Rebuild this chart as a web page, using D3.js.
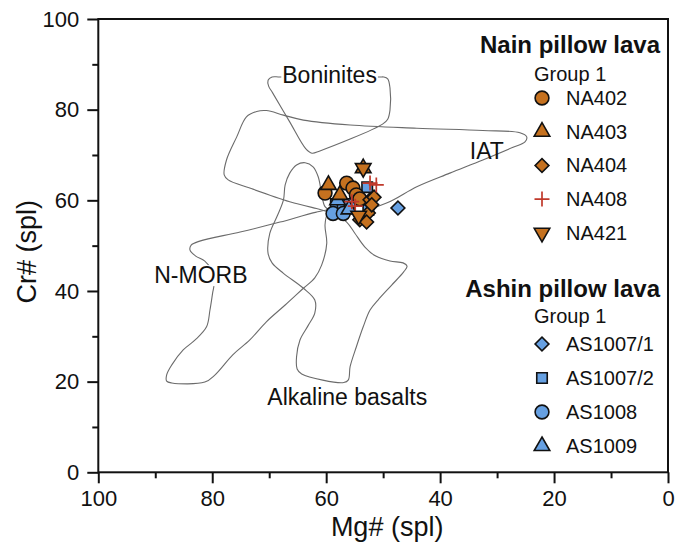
<!DOCTYPE html>
<html>
<head>
<meta charset="utf-8">
<script src="https://cdn.jsdelivr.net/npm/d3@7"></script>
<style>
  body { margin: 0; background: #fff; }
  svg { display: block; }
  text { font-family: "Liberation Sans", Arial, Helvetica, sans-serif; fill: #111; }
</style>
</head>
<body>
<svg id="chart" width="684" height="551"></svg>
<script>
// ---- axis ticks ----
const majorTicks = [0, 20, 40, 60, 80, 100];
const minorTicks = [10, 30, 50, 70, 90];

// ---- tectonic discrimination fields, [Mg#, Cr#] ----
const boniniteField = [[68.1,87.2],[69.5,87.2],[70.2,86.5],[70.1,85.2],[69.4,83.7],[66.4,77.3],[63.6,71.4],[62.5,70.4],[61.1,70.9],[50.1,76.8],[49.2,77.9],[48.8,79.9],[48.8,84.8],[49.2,86.8],[49.9,87.2],[50.6,87.2]];
const iatField = [[72.2,79.6],[70.5,79.8],[67.5,78.8],[64.0,77.7],[55.8,76.6],[44.1,75.9],[32.5,75.4],[26.0,74.9],[24.8,74.0],[25.1,72.9],[27.2,71.7],[32.5,68.9],[38.3,66.0],[44.1,63.0],[49.4,59.4],[56.7,56.8],[61.7,58.2],[66.4,59.7],[73.4,62.7],[77.2,64.5],[77.9,65.6],[77.5,68.9],[75.7,74.0],[74.0,78.4]];
const alkalineField = [[63.7,68.3],[62.3,67.4],[61.4,65.2],[60.8,61.5],[60.2,58.6],[58.5,57.0],[56.4,55.2],[55.0,52.8],[53.2,49.7],[51.3,47.7],[48.8,46.6],[46.5,46.2],[45.8,45.5],[46.4,44.2],[48.5,41.3],[50.9,38.0],[52.3,35.8],[53.5,32.1],[54.7,27.7],[55.8,23.3],[56.1,20.4],[56.9,19.8],[64.3,21.7],[65.1,22.8],[65.2,25.5],[64.6,29.2],[63.2,32.3],[62.0,35.1],[62.0,38.0],[64.0,40.6],[67.5,43.9],[69.5,46.2],[70.2,48.3],[69.9,52.7],[68.5,56.8],[67.5,60.1],[67.2,63.4],[66.4,66.0],[65.2,67.8]];
const morbField = [[58.5,58.1],[61.7,57.4],[68.1,55.2],[75.1,53.0],[82.2,51.0],[83.7,50.1],[83.9,49.0],[82.9,47.7],[81.3,46.6],[80.1,44.6],[79.7,41.3],[79.9,39.8],[80.4,35.8],[81.0,32.1],[83.0,29.2],[85.1,27.0],[87.1,23.7],[88.0,21.5],[88.0,20.1],[87.1,19.7],[81.3,19.9],[79.5,21.5],[76.4,25.9],[73.4,29.2],[70.5,33.2],[67.2,36.9],[64.0,40.6],[62.0,42.9],[60.8,45.7],[59.9,50.5],[60.2,54.6],[59.7,57.2]];

// field labels: [text, Mg#, Cr#, masks the outline underneath]
const fieldLabels = [
  ["Boninites", 59.4, 87.6, true],
  ["IAT", 31.8, 70.9, false],
  ["N-MORB", 82.0, 43.5, true],
  ["Alkaline basalts", 56.3, 16.6, false]
];

// ---- spinel analyses, [Mg#, Cr#] ----
const na402 = [[60.2,61.6],[56.4,63.8],[55.3,62.7],[54.7,61.2],[54.1,60.3]];
const na403 = [[53.5,67.1],[59.6,63.4],[57.6,61.2]];
const na404 = [[52.3,60.1],[51.6,60.7],[52.6,57.2],[54.1,55.7],[52.9,55.2],[52.0,59.0]];
const na408 = [[52.3,63.8],[51.2,63.4],[55.5,59.7],[54.9,58.7]];
const na421 = [[53.5,67.1],[54.3,56.6]];
const as1007_1 = [[47.4,58.3]];
const as1007_2 = [[58.3,59.2],[57.1,59.2],[55.9,59.2],[52.8,62.9],[52.6,57.9]];
const as1008 = [[58.8,57.1],[57.0,57.1]];
const as1009 = [[58.0,60.0],[56.0,58.0]];

const orange = "#c5711f";
const blue = "#66a0e2";
const red = "#c0392b";

const ashinSeries = [
  { name: "AS1007/1", shape: "diamond", color: blue, data: as1007_1 },
  { name: "AS1007/2", shape: "square", color: blue, data: as1007_2 },
  { name: "AS1008", shape: "circle", color: blue, data: as1008 },
  { name: "AS1009", shape: "triangle", color: blue, data: as1009 }
];
const nainSeries = [
  { name: "NA402", shape: "circle", color: orange, data: na402 },
  { name: "NA403", shape: "triangle", color: orange, data: na403 },
  { name: "NA404", shape: "diamond", color: orange, data: na404 },
  { name: "NA408", shape: "cross", color: red, data: na408 },
  { name: "NA421", shape: "triangleDown", color: orange, data: na421 }
];

// ---- layout ----
const svg = d3.select("#chart");
const plot = { left: 98.3, right: 668, top: 19, bottom: 472.3 };

const x = d3.scaleLinear().domain([100, 0]).range([plot.left, plot.right]);
const y = d3.scaleLinear().domain([0, 100]).range([plot.bottom, plot.top]);

// field outlines
const outline = d3.line()
  .x(d => x(d[0])).y(d => y(d[1]))
  .curve(d3.curveCatmullRomClosed.alpha(0.5));

const fields = svg.append("g").attr("fill", "none").attr("stroke", "#6b6b6b").attr("stroke-width", 1.1);
[boniniteField, iatField, alkalineField, morbField].forEach(f => {
  fields.append("path").attr("d", outline(f));
});

// field labels (some sit on the outline and mask it)
const labelG = svg.append("g");
fieldLabels.forEach(([t, mx, cr, mask]) => {
  const txt = labelG.append("text")
    .attr("x", x(mx)).attr("y", y(cr))
    .attr("text-anchor", "middle").attr("dominant-baseline", "central")
    .attr("font-size", 23).text(t);
  if (mask) {
    const b = txt.node().getBBox();
    labelG.insert("rect", "text")
      .attr("x", b.x - 1).attr("y", b.y + 3).attr("width", b.width + 2).attr("height", b.height - 5)
      .attr("fill", "#fff");
  }
});

// axes
const xAxis = g => g.attr("transform", `translate(0,${plot.bottom})`);
svg.append("g").call(xAxis)
  .call(d3.axisBottom(x).tickValues(minorTicks).tickSize(6).tickFormat(""))
  .call(g => g.select(".domain").remove());
svg.append("g").call(xAxis)
  .call(d3.axisBottom(x).tickValues(majorTicks).tickSize(11).tickPadding(7).tickFormat(d3.format("d")))
  .call(g => g.select(".domain").remove())
  .call(g => g.selectAll("text").attr("font-size", 22).attr("fill", "#111"));

const yAxis = g => g.attr("transform", `translate(${plot.left},0)`);
svg.append("g").call(yAxis)
  .call(d3.axisLeft(y).tickValues(minorTicks).tickSize(6).tickFormat(""))
  .call(g => g.select(".domain").remove());
svg.append("g").call(yAxis)
  .call(d3.axisLeft(y).tickValues(majorTicks).tickSize(11).tickPadding(8).tickFormat(d3.format("d")))
  .call(g => g.select(".domain").remove())
  .call(g => g.selectAll("text").attr("font-size", 22).attr("fill", "#111"));

svg.selectAll(".tick line").attr("stroke", "#111").attr("stroke-width", 2);

// plot frame
svg.append("rect")
  .attr("x", plot.left).attr("y", plot.top)
  .attr("width", plot.right - plot.left).attr("height", plot.bottom - plot.top)
  .attr("fill", "none").attr("stroke", "#111").attr("stroke-width", 2);

// axis titles
svg.append("text")
  .attr("x", (plot.left + plot.right) / 2 + 4).attr("y", 536)
  .attr("text-anchor", "middle").attr("font-size", 27).text("Mg# (spl)");
svg.append("text")
  .attr("transform", `translate(36,${(plot.top + plot.bottom) / 2 + 6}) rotate(-90)`)
  .attr("text-anchor", "middle").attr("font-size", 27).text("Cr# (spl)");

// marker drawing
function drawMarker(sel, shape, color) {
  if (shape === "cross") {
    sel.append("path").attr("d", "M-7.5,0H7.5M0,-7.5V7.5")
      .attr("stroke", color).attr("stroke-width", 1.7).attr("fill", "none");
    return;
  }
  let path;
  if (shape === "circle") path = d3.symbol(d3.symbolCircle, 150)();
  else if (shape === "square") path = d3.symbol(d3.symbolSquare, 110)();
  else if (shape === "diamond") path = d3.symbol(d3.symbolSquare, 95)();
  else path = d3.symbol(d3.symbolTriangle, 105)();
  const p = sel.append("path").attr("d", path)
    .attr("fill", color).attr("stroke", "#111").attr("stroke-width", 1.6);
  if (shape === "diamond") p.attr("transform", "rotate(45)");
  if (shape === "triangleDown") p.attr("transform", "rotate(180)");
}

// data points
const pts = svg.append("g");
[...ashinSeries, ...nainSeries].forEach(s => {
  s.data.forEach(d => {
    const g = pts.append("g").attr("transform", `translate(${x(d[0])},${y(d[1])})`);
    drawMarker(g, s.shape, s.color);
  });
});

// legend
const legend = svg.append("g");
function legendBlock(title, titleY, groupY, rowY0, step, series) {
  legend.append("text").attr("x", 660).attr("y", titleY)
    .attr("text-anchor", "end").attr("font-size", 24).attr("font-weight", "bold").text(title);
  legend.append("text").attr("x", 534).attr("y", groupY)
    .attr("font-size", 20).text("Group 1");
  series.forEach((s, i) => {
    const cy = rowY0 + i * step;
    const g = legend.append("g").attr("transform", `translate(542,${cy})`);
    drawMarker(g, s.shape, s.color);
    legend.append("text").attr("x", 566).attr("y", cy)
      .attr("dominant-baseline", "central").attr("font-size", 20).text(s.name);
  });
}
legendBlock("Nain pillow lava", 53, 81, 98, 33.7, nainSeries);
legendBlock("Ashin pillow lava", 297, 323, 344, 34, ashinSeries);
</script>
</body>
</html>
